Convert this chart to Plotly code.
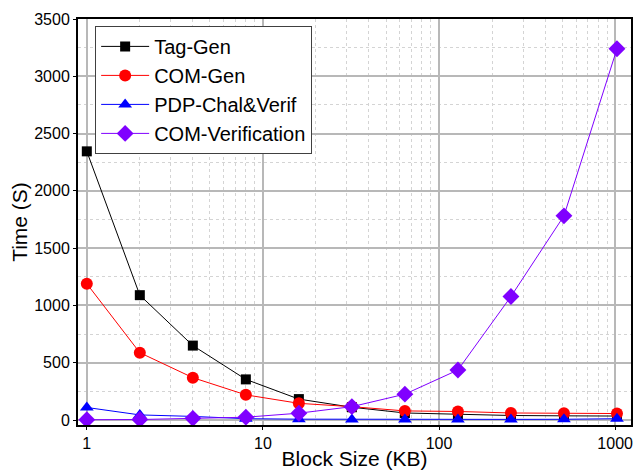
import plotly.graph_objects as go

block_size = [1, 2, 4, 8, 16, 32, 64, 128, 256, 512, 1024]
tag_gen = [2345, 1090, 650, 355, 183, 112, 62, 52, 40, 37, 35]
com_gen = [1190, 588, 370, 220, 146, 117, 80, 75, 62, 60, 57]
pdp_chal = [110, 45, 32, 12, 8, 6, 6, 6, 6, 7, 12]
com_verif = [3, 5, 15, 25, 60, 117, 226, 437, 1078, 1782, 3240]

series = [
    ("Tag-Gen", tag_gen, "#000000", "square", 10),
    ("COM-Gen", com_gen, "#ff0000", "circle", 12),
    ("PDP-Chal&Verif", pdp_chal, "#0000ff", "triangle-up", 12),
    ("COM-Verification", com_verif, "#8000ff", "diamond", 13),
]

fig = go.Figure()
for name, vals, color, sym, size in series:
    fig.add_trace(go.Scatter(
        x=block_size, y=vals, name=name, mode="lines+markers",
        line=dict(color=color, width=1),
        marker=dict(symbol=sym, size=size, color=color, line=dict(width=0)),
    ))

font = "Liberation Sans, Arial, sans-serif"
fig.update_layout(
    width=634, height=470,
    margin=dict(l=78, r=1, t=19, b=38),
    paper_bgcolor="white", plot_bgcolor="white",
    font=dict(family=font, color="black", size=16),
    showlegend=True,
    legend=dict(
        x=0.031, y=0.983, xanchor="left", yanchor="top",
        bgcolor="white", bordercolor="#404040", borderwidth=1,
        font=dict(size=20, family=font), tracegroupgap=0,
        itemwidth=48,
    ),
    xaxis=dict(
        type="log", range=[-0.05, 3.09],
        tickvals=[1, 10, 100, 1000], ticktext=["1", "10", "100", "1000"],
        showline=True, linecolor="black", linewidth=2, mirror=True,
        ticks="outside", ticklen=3, tickcolor="black",
        showgrid=True, gridcolor="#b8b8b8", gridwidth=1.5,
        minor=dict(showgrid=True, gridcolor="#d4d4d4", griddash="dot", gridwidth=1,
                   tickvals=[d * m for d in (1, 10, 100) for m in range(2, 10)]),
        tickfont=dict(size=16),
        title=dict(text="Block Size (KB)", font=dict(size=21), standoff=2),
        zeroline=False,
    ),
    yaxis=dict(
        range=[-43, 3500], tickvals=[0, 500, 1000, 1500, 2000, 2500, 3000, 3500],
        showline=True, linecolor="black", linewidth=2, mirror=True,
        ticks="outside", ticklen=3, tickcolor="black",
        showgrid=True, gridcolor="#b8b8b8", gridwidth=1.5,
        minor=dict(showgrid=True, gridcolor="#d4d4d4", griddash="dot", gridwidth=1,
                   tickvals=[250, 750, 1250, 1750, 2250, 2750, 3250]),
        tickfont=dict(size=16),
        title=dict(text="Time (S)", font=dict(size=21), standoff=1),
        zeroline=False,
    ),
)

fig.write_html("out.html")
